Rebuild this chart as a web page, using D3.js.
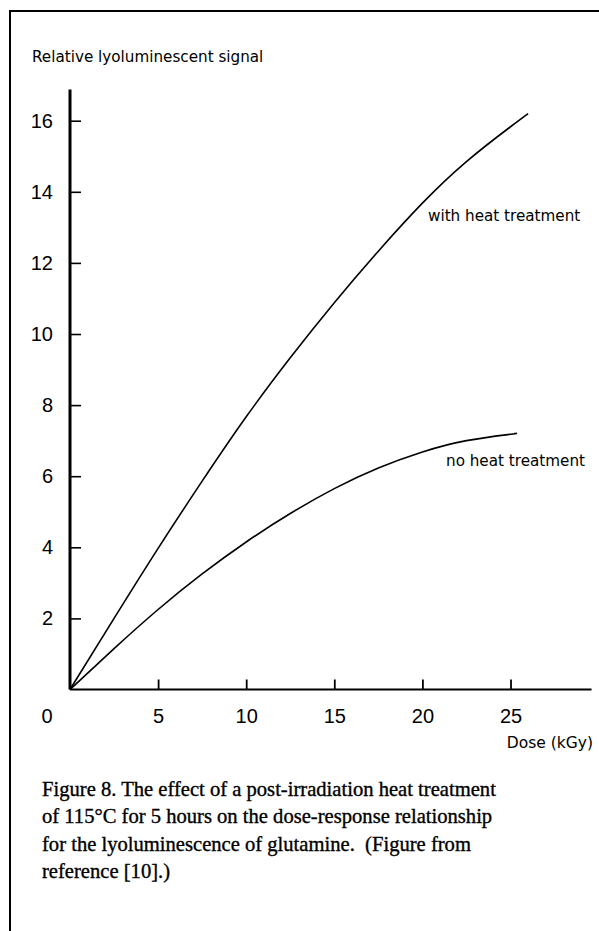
<!DOCTYPE html>
<html>
<head>
<meta charset="utf-8">
<script src="https://cdn.jsdelivr.net/npm/d3@7"></script>
<style>
  body { margin: 0; background: #fff; }
  svg { display: block; }
</style>
</head>
<body>
<div id="chart"></div>
<script>
// data (dose in kGy, relative signal)
const doses = [0, 2.5, 5, 7.5, 10, 12.5, 15, 17.5, 20, 22.5, 25];
const withHeat = [0, 2.0, 3.97, 5.86, 7.67, 9.33, 10.88, 12.33, 13.68, 14.85, 15.83];
const withHeatEnd = [26, 16.2];
const noHeat = [0, 1.15, 2.25, 3.25, 4.15, 4.95, 5.65, 6.23, 6.68, 7.0, 7.18];
const noHeatEnd = [25.2, 7.2];
const xTicks = [5, 10, 15, 20, 25];
const yTicks = [2, 4, 6, 8, 10, 12, 14, 16];
const captionLines = [
  "Figure 8. The effect of a post-irradiation heat treatment",
  "of 115\u00B0C for 5 hours on the dose-response relationship",
  "for the lyoluminescence of glutamine.  (Figure from",
  "reference [10].)"
];

const W = 599, H = 931;
const sans = "'Liberation Sans', Arial, sans-serif";
const wide = "'DejaVu Sans', sans-serif";
const serif = "'Liberation Serif', 'Times New Roman', serif";

const svg = d3.select("#chart").append("svg")
  .attr("width", W)
  .attr("height", H);

// frame (top + left edges)
svg.append("path")
  .attr("d", "M10,931 L10,11 L599,11")
  .attr("fill", "none")
  .attr("stroke", "#000")
  .attr("stroke-width", 2);

// scales
const x = d3.scaleLinear().domain([0, 25]).range([70, 510.5]);
const y = d3.scaleLinear().domain([0, 16]).range([689.5, 120.7]);

// x axis
const xAxis = svg.append("g")
  .attr("transform", `translate(0,${y(0)})`)
  .call(d3.axisBottom(x)
    .tickValues(xTicks)
    .tickSizeInner(-10)
    .tickSizeOuter(0)
    .tickPadding(19));
xAxis.select(".domain").remove();
xAxis.selectAll(".tick line").attr("stroke-width", 1.8);
xAxis.selectAll(".tick text")
  .style("font-family", sans)
  .style("font-size", "20px")
  .attr("fill", "#000");
xAxis.append("line")
  .attr("x1", x(0)).attr("x2", x(29.6))
  .attr("stroke", "#000").attr("stroke-width", 2);

// y axis
const yAxis = svg.append("g")
  .attr("transform", `translate(${x(0)},0)`)
  .call(d3.axisLeft(y)
    .tickValues(yTicks)
    .tickSizeInner(-11)
    .tickSizeOuter(0)
    .tickPadding(17));
yAxis.select(".domain").remove();
yAxis.selectAll(".tick line").attr("stroke-width", 1.6);
yAxis.selectAll(".tick text")
  .style("font-family", sans)
  .style("font-size", "20px")
  .attr("fill", "#000");
yAxis.append("line")
  .attr("y1", y(0)).attr("y2", y(16.88))
  .attr("stroke", "#000").attr("stroke-width", 3);

// shared origin label
svg.append("text")
  .attr("x", 47).attr("y", 723)
  .attr("text-anchor", "middle")
  .style("font-family", sans).style("font-size", "20px")
  .text("0");

// axis titles
svg.append("text")
  .attr("x", 32).attr("y", 62)
  .style("font-family", wide).style("font-size", "15.2px")
  .text("Relative lyoluminescent signal");

svg.append("text")
  .attr("x", 593).attr("y", 748)
  .attr("text-anchor", "end")
  .style("font-family", wide).style("font-size", "15.5px")
  .text("Dose (kGy)");

// curves
const line = d3.line()
  .x(d => x(d[0]))
  .y(d => y(d[1]))
  .curve(d3.curveNatural);

const heatPts = doses.map((d, i) => [d, withHeat[i]]).concat([withHeatEnd]);
const noHeatPts = doses.map((d, i) => [d, noHeat[i]]).concat([noHeatEnd]);

svg.append("path")
  .datum(heatPts)
  .attr("fill", "none").attr("stroke", "#000").attr("stroke-width", 1.6)
  .attr("d", line);

svg.append("path")
  .datum(noHeatPts)
  .attr("fill", "none").attr("stroke", "#000").attr("stroke-width", 1.6)
  .attr("d", line);

// curve labels
svg.append("text")
  .attr("x", 428).attr("y", 221)
  .style("font-family", wide).style("font-size", "15.2px")
  .text("with heat treatment");

svg.append("text")
  .attr("x", 446).attr("y", 466)
  .style("font-family", wide).style("font-size", "15.2px")
  .text("no heat treatment");

// caption
svg.append("g")
  .selectAll("text")
  .data(captionLines)
  .join("text")
  .attr("x", 42)
  .attr("y", (d, i) => 796 + i * 27.3)
  .style("font-family", serif)
  .style("font-size", "20.6px")
  .style("white-space", "pre")
  .attr("fill", "#000")
  .attr("stroke", "#000")
  .attr("stroke-width", 0.35)
  .text(d => d);
</script>
</body>
</html>
